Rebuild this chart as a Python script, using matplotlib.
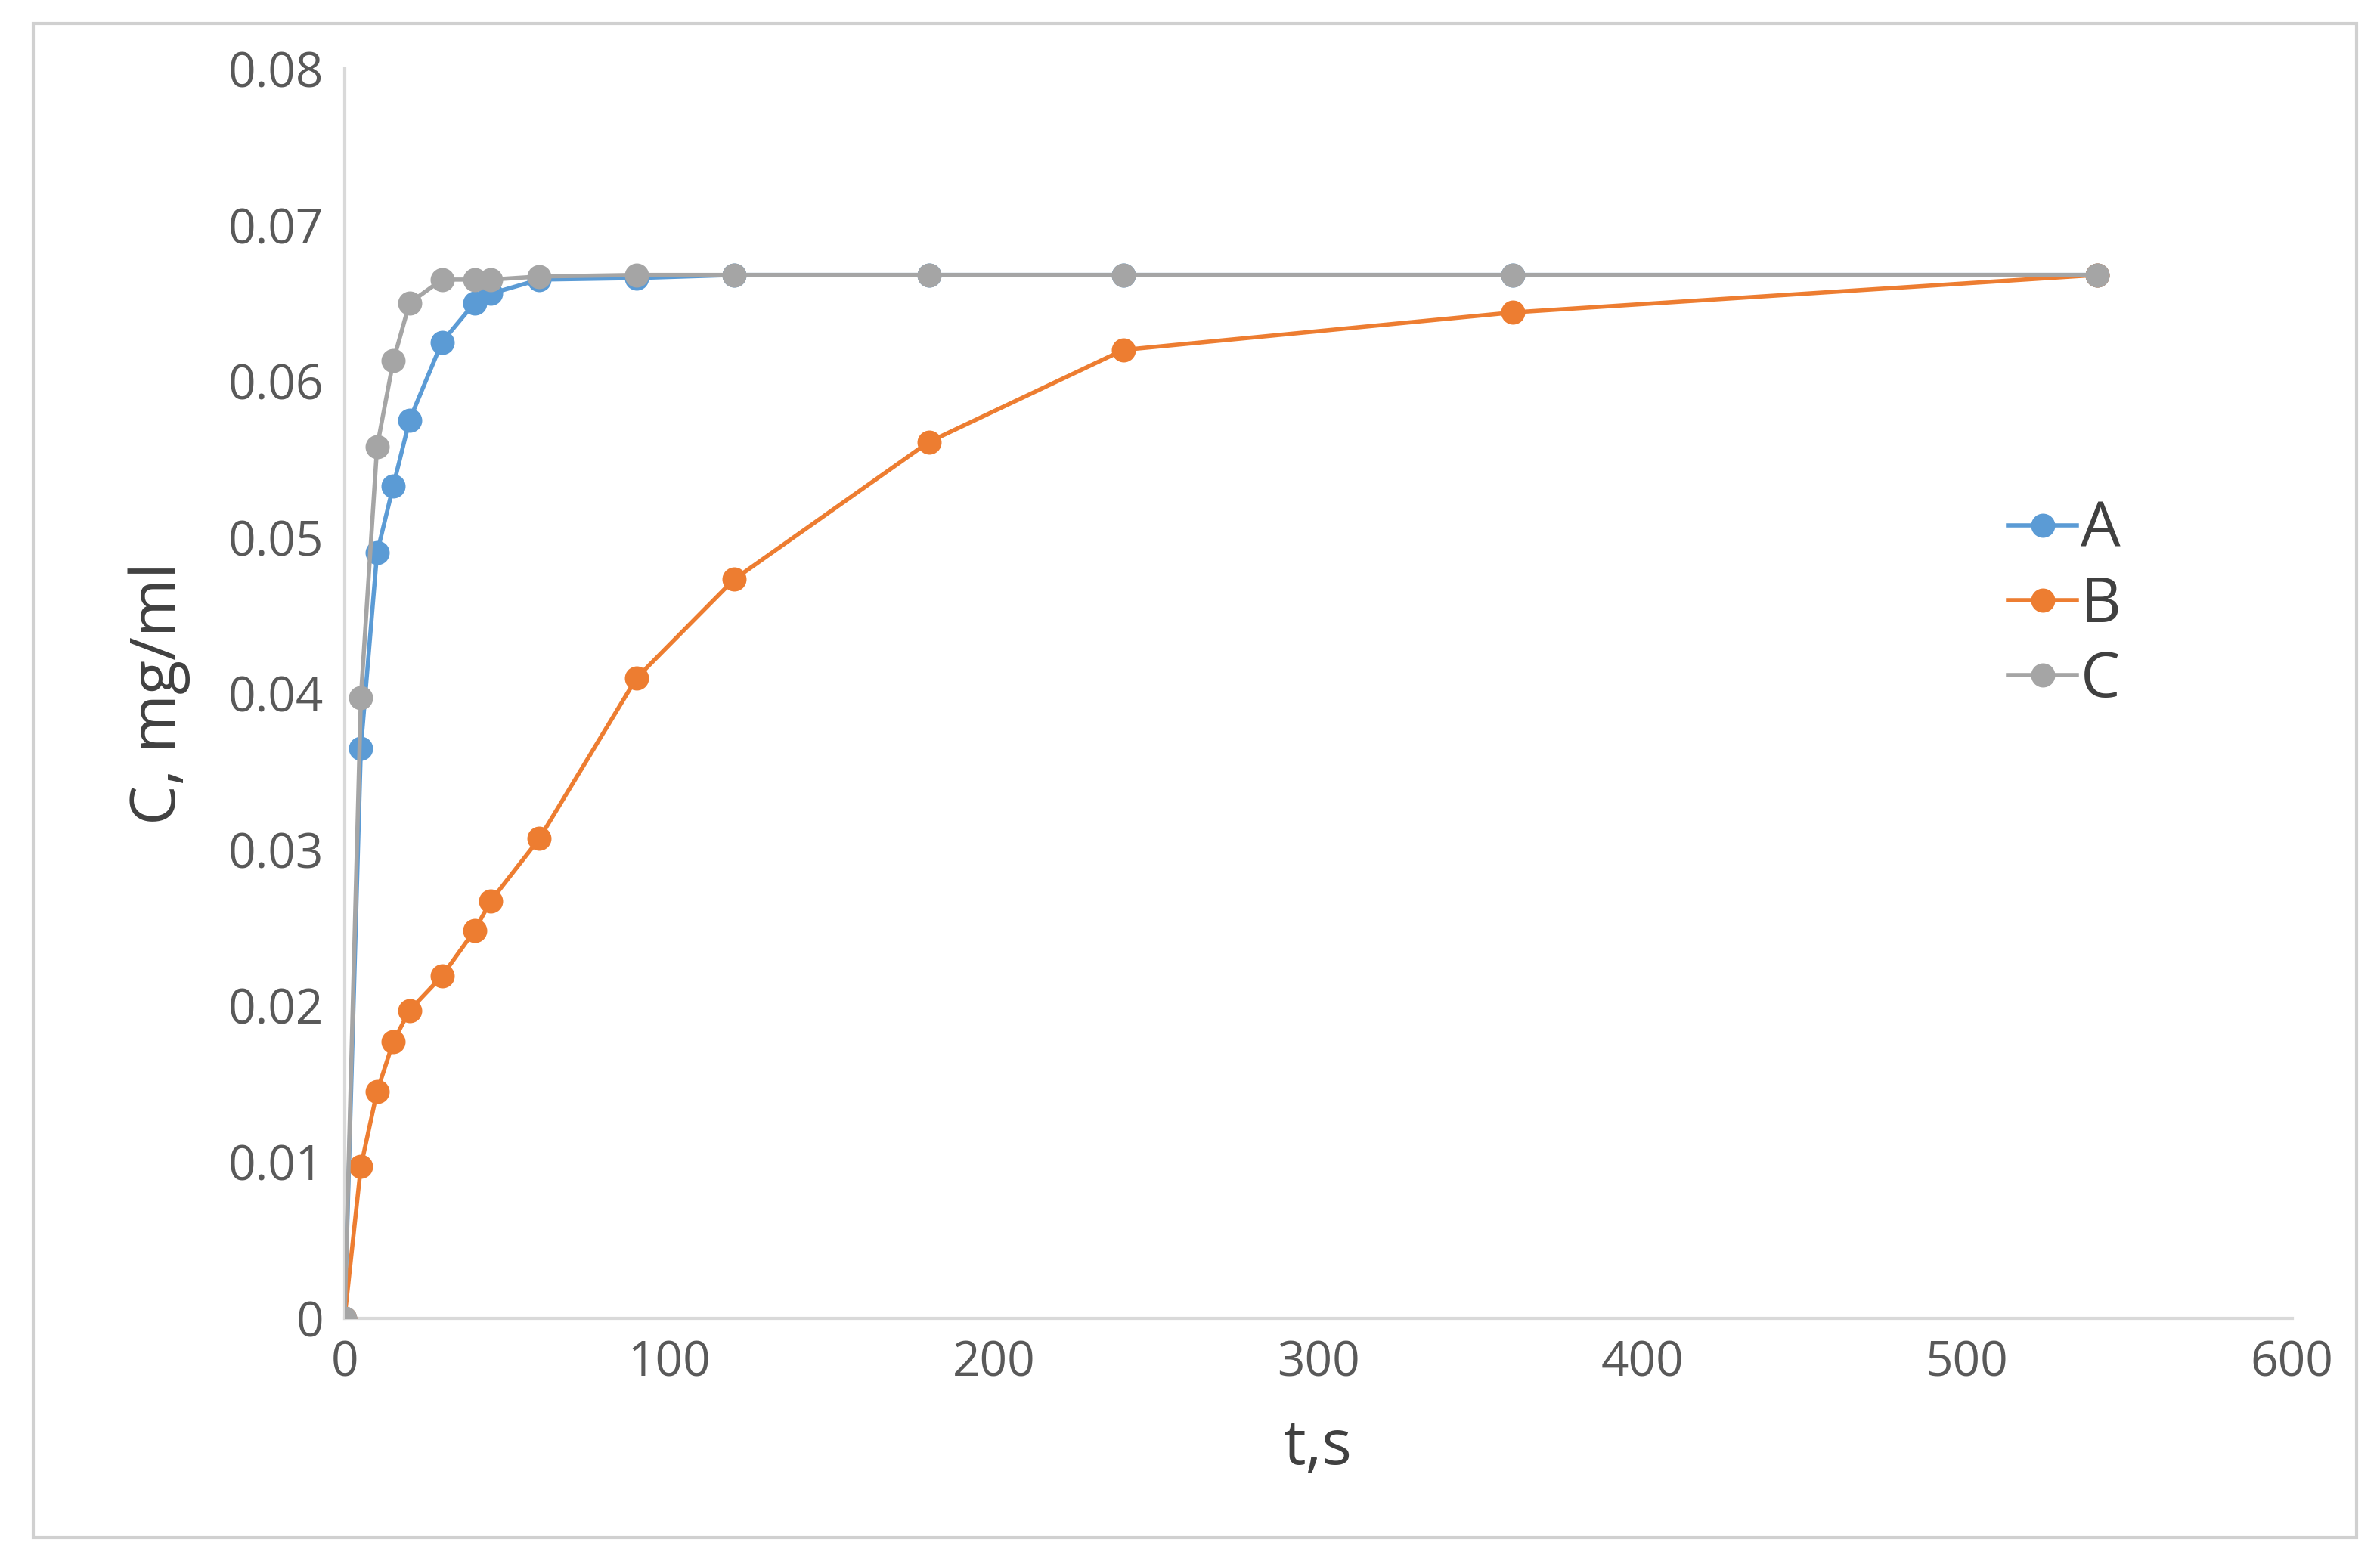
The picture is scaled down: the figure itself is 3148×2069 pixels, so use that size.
import matplotlib
matplotlib.use("Agg")
import matplotlib.pyplot as plt
from matplotlib.patches import Rectangle

t = [0, 5, 10, 15, 20, 30, 40, 45, 60, 90, 120, 180, 240, 360, 540]
A = [0, 0.0365, 0.049, 0.0533, 0.0575, 0.0625, 0.065, 0.0656, 0.0665, 0.0666, 0.0668, 0.0668, 0.0668, 0.0668, 0.0668]
B = [0, 0.0097, 0.0145, 0.0177, 0.0197, 0.0219, 0.0248, 0.0267, 0.0307, 0.041, 0.0473, 0.0561, 0.062, 0.0644, 0.0668]
C = [0, 0.0397, 0.0558, 0.0613, 0.065, 0.0665, 0.0665, 0.0665, 0.0667, 0.0668, 0.0668, 0.0668, 0.0668, 0.0668, 0.0668]
xticks = [0, 100, 200, 300, 400, 500, 600]
yticks = [0, 0.01, 0.02, 0.03, 0.04, 0.05, 0.06, 0.07, 0.08]
ylabels = ["0", "0.01", "0.02", "0.03", "0.04", "0.05", "0.06", "0.07", "0.08"]

plt.rcParams['font.family'] = ['Open Sans', 'DejaVu Sans']
fig = plt.figure(figsize=(15.74, 10.345), dpi=200)
fig.patches.append(Rectangle((0.014, 0.017), 0.976, 0.968, transform=fig.transFigure,
                             fill=False, edgecolor='#d0d0d0', lw=1.5))
ax = fig.add_axes([0.1448, 0.1573, 0.8182, 0.7987])
ax.plot(t, A, color='#5b9bd5', marker='o', ms=10.5, lw=2, label='A', zorder=3)
ax.plot(t, B, color='#ed7d31', marker='o', ms=10.5, lw=2, label='B', zorder=3)
ax.plot(t, C, color='#a5a5a5', marker='o', ms=10.5, lw=2, label='C', zorder=4)
ax.set_xlim(0, 600)
ax.set_ylim(0, 0.08)
ax.set_xticks(xticks)
ax.set_yticks(yticks)
ax.set_yticklabels(ylabels)
ax.tick_params(length=0, labelsize=23, colors='#595959', pad=10)
for s in ['top', 'right']:
    ax.spines[s].set_visible(False)
for s in ['left', 'bottom']:
    ax.spines[s].set_color('#d9d9d9')
    ax.spines[s].set_linewidth(1.5)
ax.set_xlabel('t,s', fontsize=30, color='#404040', labelpad=14)
ax.set_ylabel('C, mg/ml', fontsize=30, color='#404040', labelpad=18)
ax.legend(loc='center left', bbox_to_anchor=(0.825, 0.57), frameon=False, fontsize=30,
          handlelength=1.1, handletextpad=0.05, labelspacing=0.2, labelcolor='#404040')
fig.savefig('out.png', dpi=200)
